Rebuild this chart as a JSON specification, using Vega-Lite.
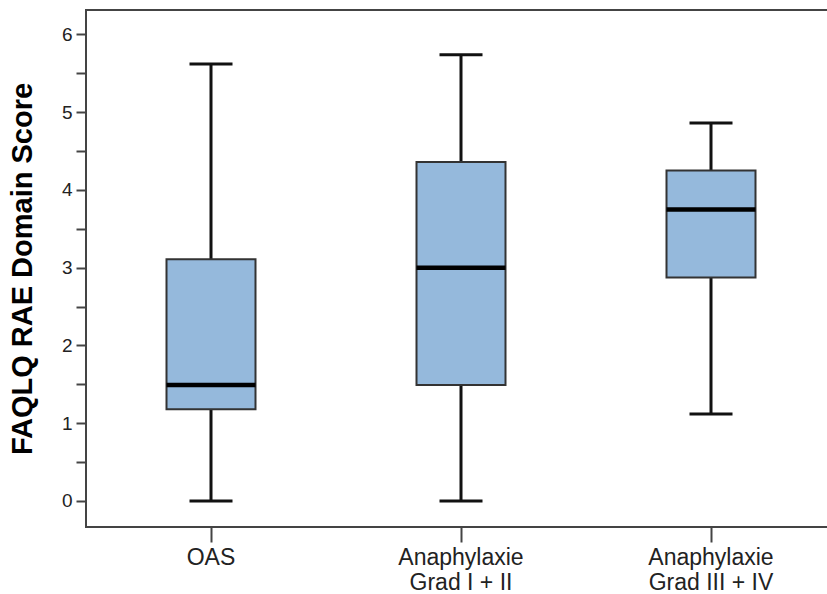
{
  "$schema": "https://vega.github.io/schema/vega-lite/v6.json",
  "width": 742,
  "height": 517,
  "autosize": {"type": "none"},
  "padding": {"left": 86, "top": 10, "right": 0, "bottom": 67},
  "background": "white",
  "config": {
    "font": "Liberation Sans",
    "view": {"stroke": "#444444", "strokeWidth": 2}
  },
  "data": {
    "values": [
      {"group": "OAS", "min": 0, "q1": 1.18, "median": 1.49, "q3": 3.11, "max": 5.62},
      {"group": "Anaphylaxie|Grad I + II", "min": 0, "q1": 1.49, "median": 3.0, "q3": 4.36, "max": 5.74},
      {"group": "Anaphylaxie|Grad III + IV", "min": 1.12, "q1": 2.875, "median": 3.75, "q3": 4.25, "max": 4.86}
    ]
  },
  "encoding": {
    "x": {
      "field": "group",
      "type": "nominal",
      "sort": null,
      "scale": {"range": [0, 750], "paddingInner": 0, "paddingOuter": 0},
      "axis": {
        "title": null,
        "domain": false,
        "labelAngle": 0,
        "labelFontSize": 23,
        "labelColor": "#222222",
        "labelPadding": 4,
        "labelLineHeight": 25,
        "labelExpr": "split(datum.label, '|')",
        "tickSize": 15,
        "tickColor": "#444444",
        "tickWidth": 2
      }
    }
  },
  "layer": [
    {
      "mark": {"type": "rule", "color": "#111111"},
      "encoding": {
        "y": {
          "field": "min",
          "type": "quantitative",
          "scale": {"domain": [-0.335, 6.315], "nice": false, "zero": false},
          "axis": {
            "title": "FAQLQ RAE Domain Score",
            "titleFontSize": 29,
            "titleFontWeight": "bold",
            "titleColor": "#000000",
            "titlePadding": 24,
            "domain": false,
            "grid": false,
            "values": [0, 0.5, 1, 1.5, 2, 2.5, 3, 3.5, 4, 4.5, 5, 5.5, 6],
            "labelExpr": "datum.value % 1 === 0 ? format(datum.value, 'd') : ''",
            "labelFontSize": 19,
            "labelColor": "#222222",
            "labelPadding": 4,
            "tickSize": 10,
            "tickColor": "#444444",
            "tickWidth": 2,
            "encoding": {
              "ticks": {"update": {"x2": {"signal": "datum.value % 1 === 0 ? -10 : -7"}}}
            }
          }
        },
        "y2": {"field": "max"},
        "strokeWidth": {
          "field": "group",
          "type": "nominal",
          "scale": {"domain": ["OAS", "Anaphylaxie|Grad I + II", "Anaphylaxie|Grad III + IV"], "range": [3, 3, 2]},
          "legend": null
        }
      }
    },
    {
      "mark": {"type": "tick", "color": "#111111", "opacity": 1, "size": 43, "thickness": 3},
      "encoding": {"y": {"field": "min", "type": "quantitative"}}
    },
    {
      "mark": {"type": "tick", "color": "#111111", "opacity": 1, "size": 43, "thickness": 3},
      "encoding": {"y": {"field": "max", "type": "quantitative"}}
    },
    {
      "mark": {"type": "bar", "width": 89, "fill": "#95b9dc", "stroke": "#333333", "strokeWidth": 2, "opacity": 1},
      "encoding": {
        "y": {"field": "q1", "type": "quantitative"},
        "y2": {"field": "q3"}
      }
    },
    {
      "mark": {"type": "tick", "color": "#000000", "opacity": 1, "size": 89, "thickness": 4.5},
      "encoding": {"y": {"field": "median", "type": "quantitative"}}
    }
  ]
}
